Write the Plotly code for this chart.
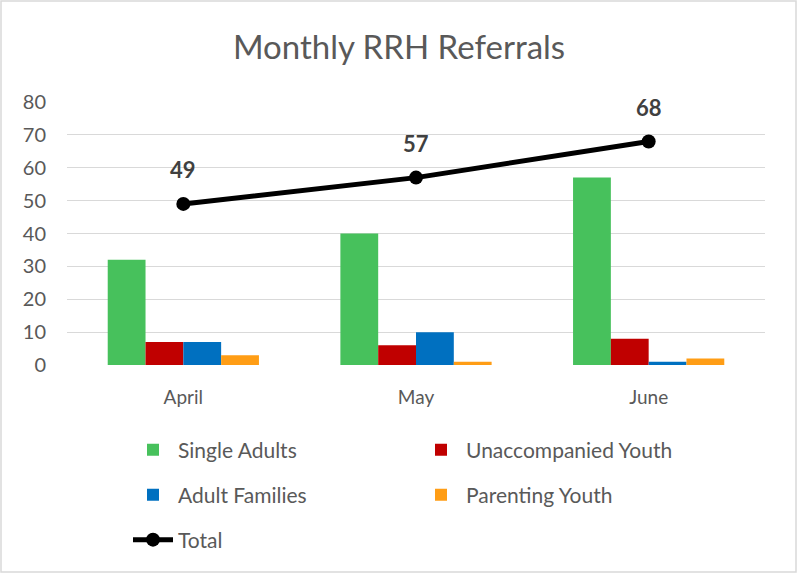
import plotly.graph_objects as go

months = ["April", "May", "June"]
single_adults = [32, 40, 57]
unaccompanied_youth = [7, 6, 8]
adult_families = [7, 10, 1]
parenting_youth = [3, 1, 2]
totals = [49, 57, 68]
y_ticks = [0, 10, 20, 30, 40, 50, 60, 70, 80]

FONT = "Lato"
GRAY = "#595959"

W, H = 798, 574
L, R, T, B = 67, 33, 102, 209
pw, ph = W - L - R, H - T - B

def px(x):
    return (x - L) / pw

def py(y):
    return (H - B - y) / ph

fig = go.Figure()
bar_specs = [
    ("Single Adults", single_adults, "#47C15C", "legend"),
    ("Unaccompanied Youth", unaccompanied_youth, "#C00000", "legend"),
    ("Adult Families", adult_families, "#0070C0", "legend2"),
    ("Parenting Youth", parenting_youth, "#FF9D15", "legend2"),
]
for name, vals, color, lg in bar_specs:
    fig.add_trace(go.Bar(x=months, y=vals, name=name, marker_color=color,
                         marker_line_width=0, legend=lg))

fig.add_trace(go.Scatter(x=months, y=totals, name="Total", mode="lines+markers",
                         line=dict(color="black", width=5),
                         marker=dict(color="black", size=14), legend="legend3"))

for m, t in zip(months, totals):
    fig.add_annotation(x=m, y=t, text=f"<b>{t}</b>", showarrow=False, yshift=34,
                       font=dict(family=FONT, size=22, color="#404040"))

legend_common = dict(orientation="h", xanchor="left", yanchor="middle",
                     font=dict(family=FONT, size=21, color=GRAY),
                     entrywidth=233, entrywidthmode="pixels", itemwidth=40,
                     bgcolor="rgba(0,0,0,0)")

LX = px(128)
fig.update_layout(
    width=W, height=H,
    margin=dict(l=L, r=R, t=T, b=B),
    paper_bgcolor="white", plot_bgcolor="white",
    barmode="group", bargap=0.35, bargroupgap=0,
    title=dict(text="Monthly RRH Referrals", x=0.5, xanchor="center", y=1 - 47 / H,
               yanchor="middle", font=dict(family=FONT, size=33, color=GRAY)),
    font=dict(family=FONT, color=GRAY),
    legend=dict(x=LX, y=py(450), **legend_common),
    legend2=dict(x=LX, y=py(495), **legend_common),
    legend3=dict(x=LX, y=py(540), **legend_common),
    xaxis=dict(showgrid=False, showline=False, ticks="", ticklabelstandoff=19,
               tickfont=dict(family=FONT, size=19, color=GRAY)),
    yaxis=dict(range=[0, 80], tickvals=y_ticks, showgrid=True, gridcolor="#D9D9D9",
               gridwidth=1, zeroline=False, showline=False, ticks="",
               ticklabelstandoff=20,
               tickfont=dict(family=FONT, size=20, color=GRAY)),
    shapes=[dict(type="rect", xref="paper", yref="paper",
                 x0=px(1), x1=px(796), y0=py(572), y1=py(1),
                 line=dict(color="#D9D9D9", width=1.5), layer="below")],
)

fig.write_html("out.html", config={"displayModeBar": False},
               post_script="document.body.style.margin='0';document.body.style.overflow='hidden';")
